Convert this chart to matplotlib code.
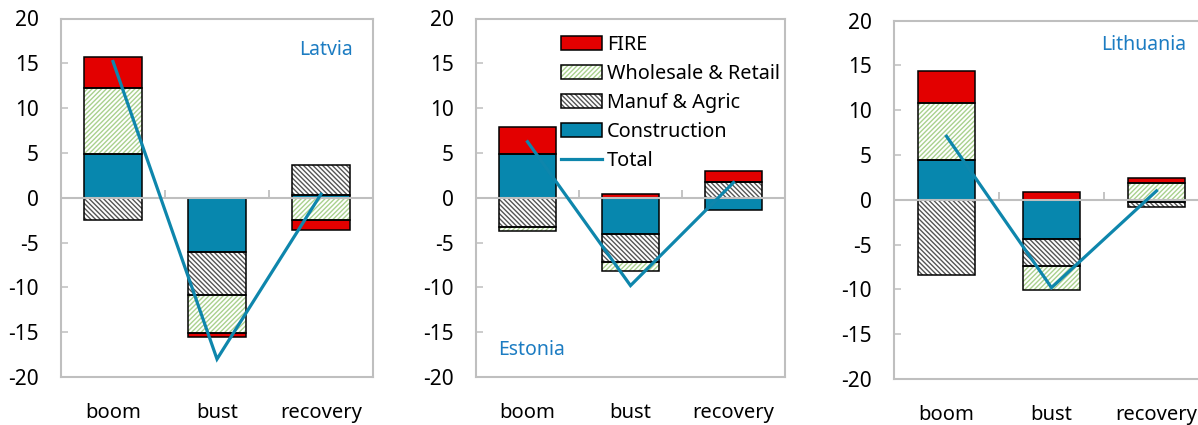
import matplotlib
matplotlib.use('Agg')
import matplotlib.pyplot as plt
import numpy as np
from matplotlib.patches import Patch
from matplotlib.lines import Line2D

# ---------------- data ----------------
categories = ['boom', 'bust', 'recovery']
countries = ['Latvia', 'Estonia', 'Lithuania']

latvia_construction = [4.9, -6.0, 0.3]
latvia_manuf = [-2.5, -4.9, 3.3]
latvia_wholesale = [7.3, -4.15, -2.5]
latvia_fire = [3.5, -0.45, -1.15]
latvia_total = [15.2, -18.0, 0.4]

estonia_construction = [4.9, -4.1, -1.35]
estonia_manuf = [-3.25, -3.1, 1.75]
estonia_wholesale = [-0.45, -1.0, 0.05]
estonia_fire = [2.95, 0.42, 1.2]
estonia_total = [6.25, -9.8, 1.7]

lithuania_construction = [4.5, -4.4, -0.25]
lithuania_manuf = [-8.4, -3.0, -0.5]
lithuania_wholesale = [6.3, -2.7, 1.84]
lithuania_fire = [3.6, 0.83, 0.6]
lithuania_total = [7.1, -9.8, 1.0]

series_names = ['Construction', 'Manuf & Agric', 'Wholesale & Retail', 'FIRE']
country_data = {
    'Latvia': [latvia_construction, latvia_manuf, latvia_wholesale, latvia_fire, latvia_total],
    'Estonia': [estonia_construction, estonia_manuf, estonia_wholesale, estonia_fire, estonia_total],
    'Lithuania': [lithuania_construction, lithuania_manuf, lithuania_wholesale, lithuania_fire, lithuania_total],
}

# ---------------- style ----------------
plt.rcParams['font.family'] = ['Noto Sans', 'DejaVu Sans']
plt.rcParams['axes.unicode_minus'] = False
plt.rcParams['hatch.linewidth'] = 1.0

FS_Y = 15
FS_X = 14.5
FS_LEG = 14.3
FS_LAB = 14
GRAY = '#BFBFBF'
BLUE_C = '#0787AE'
RED = '#E30000'
LINE_C = '#0E86AC'
LABEL_C = '#1C7CC2'
styles = {
    'Construction': dict(face=BLUE_C, hatch=None, hcol=BLUE_C),
    'Manuf & Agric': dict(face='white', hatch='\\' * 7, hcol='#555555'),
    'Wholesale & Retail': dict(face='white', hatch='/' * 7, hcol='#A9D18E'),
    'FIRE': dict(face=RED, hatch=None, hcol=RED),
}

W, H = 1198, 425
fig = plt.figure(figsize=(W / 100, H / 100), dpi=100)

boxes = {
    'Latvia': (61, 377, 312, 358.5),
    'Estonia': (476, 377, 309, 358.5),
    'Lithuania': (894, 379, 315, 358.3),
}
label_pos = {
    'Latvia': (0.936, 0.913, 'right'),
    'Estonia': (0.071, 0.0754, 'left'),
    'Lithuania': (0.927, 0.932, 'right'),
}

BAR_W = 0.55
x = np.arange(len(categories))

for c in countries:
    l, b, w, h = boxes[c]
    ax = fig.add_axes([l / W, 1 - b / H, w / W, h / H])
    data = country_data[c]
    pos = np.zeros(len(categories))
    neg = np.zeros(len(categories))
    for name, vals in zip(series_names, data[:4]):
        v = np.array(vals, dtype=float)
        bottom = np.where(v >= 0, pos, neg)
        st = styles[name]
        ax.bar(x, v, bottom=bottom, width=BAR_W, color=st['face'], hatch=st['hatch'],
               edgecolor=st['hcol'], linewidth=0, zorder=2)
        ax.bar(x, v, bottom=bottom, width=BAR_W, fill=False, edgecolor='black',
               linewidth=1.1, zorder=2.2)
        pos = pos + np.where(v >= 0, v, 0)
        neg = neg + np.where(v < 0, v, 0)
    ax.axhline(0, color=GRAY, lw=1.5, zorder=2.5)
    bounds = x[:-1] + 0.5
    ax.plot(bounds, np.zeros_like(bounds), ls='none', marker=2, ms=6, mew=1.3,
            color=GRAY, zorder=2.5)
    ax.plot(x, data[4], color=LINE_C, lw=2.3, zorder=3, solid_joinstyle='miter')

    ax.set_xlim(-0.5, len(categories) - 0.5)
    ax.set_ylim(-20, 20)
    ax.set_yticks(np.arange(-20, 21, 5))
    ax.set_xticks(x)
    ax.set_xticklabels(categories)
    ax.tick_params(axis='x', length=0, pad=19, labelsize=FS_X)
    ax.tick_params(axis='y', direction='in', length=5, width=1.1, color=GRAY,
                   pad=16, labelsize=FS_Y)
    for s in ax.spines.values():
        s.set_color(GRAY)
        s.set_linewidth(1.5)
    lx, ly, ha = label_pos[c]
    ax.text(lx, ly, c, transform=ax.transAxes, ha=ha, va='center', color=LABEL_C,
            fontsize=FS_LAB)

    if c == 'Estonia':
        handles = []
        labels = []
        for name in reversed(series_names):
            st = styles[name]
            hp = Patch(facecolor=st['face'], hatch=st['hatch'], edgecolor=st['hcol'], linewidth=0)
            ho = Patch(fill=False, edgecolor='black', linewidth=1.1)
            handles.append((hp, ho))
            labels.append(name)
        handles.append(Line2D([], [], color=LINE_C, lw=2.3))
        labels.append('Total')
        ax.legend(handles, labels, loc='upper left', bbox_to_anchor=(0.275, 0.953),
                  frameon=False, fontsize=FS_LEG, borderpad=0, borderaxespad=0,
                  handlelength=2.05, handleheight=0.7, handletextpad=0.25,
                  labelspacing=0.45)

fig.savefig('out.png', dpi=100)
